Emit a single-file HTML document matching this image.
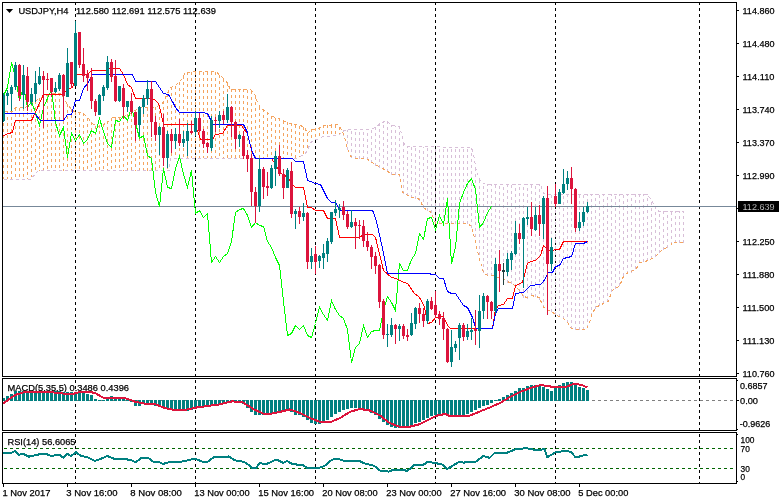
<!DOCTYPE html>
<html lang="en"><head><meta charset="utf-8"><title>USDJPY,H4</title>
<style>html,body{margin:0;padding:0;background:#fff;}body{width:779px;height:504px;overflow:hidden;font-family:"Liberation Sans", "DejaVu Sans", sans-serif;}svg{display:block;}</style>
</head><body>
<svg width="779" height="504" viewBox="0 0 779 504" font-family='"Liberation Sans", "DejaVu Sans", sans-serif' font-size="9.7px" fill="#000" shape-rendering="crispEdges">
<style>text{stroke:#000;stroke-width:0.25px;}</style>
<rect width="779" height="504" fill="#fff"/>
<g stroke="#000" stroke-width="1" stroke-dasharray="3 3" fill="none">
<path d="M75.5 2V376M75.5 380V430M75.5 434V483"/>
<path d="M195.5 2V376M195.5 380V430M195.5 434V483"/>
<path d="M315.5 2V376M315.5 380V430M315.5 434V483"/>
<path d="M435.5 2V376M435.5 380V430M435.5 434V483"/>
<path d="M555.5 2V376M555.5 380V430M555.5 434V483"/>
<path d="M699.5 2V376M699.5 380V430M699.5 434V483"/>
</g>
<path d="M3.5 111V179M7.5 111V179M11.5 111V179M15.5 108V179M19.5 108V179M23.5 108V179M27.5 106V179M31.5 103V177M35.5 101V173M39.5 98V171M43.5 96V171M47.5 94V171M51.5 93V171M55.5 93V171M59.5 93V171M63.5 97V171M67.5 104V171M71.5 109V171M75.5 112V171M79.5 112V171M83.5 113V171M87.5 118V171M91.5 122V171M95.5 126V171M99.5 125V171M103.5 124V171M107.5 121V171M111.5 118V171M115.5 117V171M119.5 117V171M123.5 116V171M127.5 114V171M131.5 113V171M135.5 110V171M139.5 108V171M143.5 108V171M147.5 108V171M151.5 108V171M155.5 107V171M159.5 105V171M163.5 101V171M167.5 94V171M171.5 87V158M175.5 86V158M179.5 82V158M183.5 76V158M187.5 72V158M191.5 72V158M195.5 72V158M199.5 72V158M203.5 72V158M207.5 72V158M211.5 72V158M215.5 72V158M219.5 75V158M223.5 79V158M227.5 83V158M231.5 89V158M235.5 89V158M239.5 89V158M243.5 89V158M247.5 90V158M251.5 91V158M255.5 96V158M259.5 107V158M263.5 109V158M267.5 112V158M271.5 116V158M275.5 118V158M279.5 118V158M283.5 121V158M287.5 122V158M291.5 123V158M295.5 125V158M299.5 126V157M303.5 127V154M307.5 133V148M311.5 129V142M315.5 128V140M319.5 127V138M323.5 125V137M327.5 125V136M331.5 125V136M335.5 125V136M339.5 127V134" stroke="#f4a460" stroke-width="1" stroke-dasharray="3 3" fill="none"/>
<path d="M343.5 136V131M347.5 150V130M351.5 158V130M355.5 159V130M359.5 159V130M363.5 159V130M367.5 160V130M371.5 163V130M375.5 166V127M379.5 168V123M383.5 170V122M387.5 172V122M391.5 175V125M395.5 175V126M399.5 177V127M403.5 194V142M407.5 196V147M411.5 198V147M415.5 199V147M419.5 201V147M423.5 208V147M427.5 211V147M431.5 213V147M435.5 224V147M439.5 224V147M443.5 224V147M447.5 224V147M451.5 224V147M455.5 224V147M459.5 224V147M463.5 224V147M467.5 224V147M471.5 228V148M475.5 243V166M479.5 261V180M483.5 273V184M487.5 276V184M491.5 276V184M495.5 278V184M499.5 279V184M503.5 280V184M507.5 283V184M511.5 284V184M515.5 287V184M519.5 292V184M523.5 298V184M527.5 299V184M531.5 296V184M535.5 297V184M539.5 300V184M543.5 308V193M547.5 311V194M551.5 312V194M555.5 315V194M559.5 317V194M563.5 319V194M567.5 323V194M571.5 329V194M575.5 330V194M579.5 330V194M583.5 330V194M587.5 328V194M591.5 316V194M595.5 309V194M599.5 306V194M603.5 304V194M607.5 302V194M611.5 292V194M615.5 289V194M619.5 286V194M623.5 276V194M627.5 274V194M631.5 273V194M635.5 269V194M639.5 263V194M643.5 262V194M647.5 261V194M651.5 259V201M655.5 257V208M659.5 253V211M663.5 250V211M667.5 248V211M671.5 245V211M675.5 243V211M679.5 243V211M683.5 243V211" stroke="#d8bfd8" stroke-width="1" stroke-dasharray="3 3" fill="none"/>
<polyline points="3.5,111.5 12.5,111.5 15.5,107.5 25.5,107.5 39.5,98.5 50.5,93.5 60.5,93.5 63.5,97.5 67.5,104.5 71.5,109.5 75.5,112.5 79.5,112.5 83.5,113.5 87.5,117.5 92.5,123.5 96.5,126.5 102.5,125.5 109.5,120.5 112.5,117.5 121.5,117.5 132.5,112.5 139.5,107.5 155.5,107.5 162.5,103.5 166.5,95.5 170.5,87.5 175.5,85.5 180.5,80.5 185.5,72.5 195.5,71.5 215.5,71.5 220.5,75.5 226.5,81.5 230.5,89.5 250.5,89.5 254.5,93.5 256.5,99.5 260.5,108.5 265.5,110.5 269.5,114.5 274.5,117.5 279.5,118.5 282.5,120.5 290.5,123.5 300.5,125.5 304.5,127.5 307.5,133.5 311.5,129.5 318.5,128.5 323.5,125.5 338.5,124.5 341.5,129.5 344.5,136.5 346.5,146.5 350.5,156.5 355.5,158.5 366.5,158.5 373.5,163.5 380.5,167.5 386.5,170.5 391.5,174.5 399.5,174.5 400.5,178.5 402.5,192.5 406.5,194.5 411.5,197.5 415.5,197.5 419.5,199.5 423.5,207.5 427.5,210.5 431.5,212.5 435.5,223.5 468.5,223.5 471.5,227.5 475.5,240.5 477.5,251.5 480.5,262.5 483.5,272.5 487.5,275.5 492.5,275.5 497.5,277.5 502.5,278.5 507.5,281.5 513.5,284.5 519.5,290.5 523.5,296.5 527.5,297.5 531.5,295.5 539.5,297.5 542.5,305.5 545.5,309.5 551.5,311.5 556.5,315.5 562.5,317.5 567.5,322.5 571.5,328.5 578.5,329.5 586.5,329.5 590.5,319.5 591.5,314.5 596.5,306.5 600.5,305.5 604.5,302.5 608.5,301.5 611.5,291.5 614.5,288.5 619.5,286.5 622.5,278.5 624.5,274.5 628.5,272.5 631.5,271.5 636.5,268.5 639.5,262.5 644.5,261.5 648.5,260.5 655.5,256.5 660.5,251.5 663.5,249.5 670.5,245.5 672.5,242.5 683.5,242.5" stroke="#f4a460" stroke-width="1" stroke-dasharray="3 3" fill="none"/>
<polyline points="3.5,179.5 30.5,179.5 38.5,170.5 169.5,170.5 170.5,158.5 297.5,158.5 300.5,156.5 305.5,153.5 308.5,147.5 311.5,141.5 316.5,139.5 323.5,136.5 338.5,135.5 342.5,131.5 346.5,129.5 371.5,129.5 376.5,126.5 380.5,123.5 386.5,120.5 391.5,125.5 399.5,126.5 401.5,133.5 404.5,144.5 407.5,146.5 471.5,147.5 473.5,153.5 476.5,171.5 480.5,181.5 485.5,184.5 540.5,184.5 543.5,193.5 548.5,194.5 647.5,194.5 653.5,203.5 656.5,210.5 660.5,211.5 683.5,211.5" stroke="#d8bfd8" stroke-width="1" stroke-dasharray="3 3" fill="none"/>
<path d="M3 206.5H736" stroke="#778899" stroke-width="1" fill="none"/>
<polyline points="3.5,95.5 7.5,87.5 11.5,62.5 15.5,77.5 19.5,100.5 23.5,86.5 27.5,107.5 31.5,101.5 35.5,112.5 39.5,125.5 43.5,107.5 47.5,98.5 51.5,89.5 55.5,122.5 59.5,135.5 63.5,127.5 67.5,157.5 71.5,133.5 75.5,140.5 79.5,134.5 83.5,143.5 87.5,139.5 91.5,130.5 95.5,133.5 99.5,118.5 103.5,131.5 107.5,143.5 111.5,147.5 115.5,120.5 119.5,121.5 123.5,115.5 127.5,120.5 131.5,107.5 135.5,122.5 139.5,138.5 143.5,135.5 147.5,155.5 151.5,158.5 155.5,192.5 159.5,206.5 163.5,168.5 167.5,187.5 171.5,188.5 175.5,168.5 179.5,156.5 183.5,174.5 187.5,187.5 191.5,170.5 195.5,213.5 199.5,210.5 203.5,217.5 207.5,213.5 211.5,262.5 215.5,256.5 219.5,262.5 223.5,256.5 227.5,253.5 231.5,241.5 235.5,212.5 239.5,209.5 243.5,208.5 247.5,215.5 251.5,227.5 255.5,222.5 259.5,225.5 263.5,226.5 267.5,241.5 271.5,247.5 275.5,257.5 279.5,265.5 283.5,301.5 287.5,335.5 291.5,333.5 295.5,325.5 299.5,329.5 303.5,325.5 307.5,335.5 311.5,337.5 315.5,323.5 319.5,307.5 323.5,314.5 327.5,320.5 331.5,300.5 335.5,309.5 339.5,315.5 343.5,318.5 347.5,329.5 351.5,362.5 355.5,347.5 359.5,343.5 363.5,325.5 367.5,337.5 371.5,331.5 375.5,330.5 379.5,330.5 383.5,310.5 387.5,296.5 391.5,302.5 395.5,310.5 399.5,263.5 403.5,270.5 407.5,270.5 411.5,259.5 415.5,253.5 419.5,233.5 423.5,239.5 427.5,218.5 431.5,217.5 435.5,229.5 439.5,215.5 443.5,224.5 447.5,198.5 451.5,263.5 455.5,247.5 459.5,203.5 463.5,192.5 467.5,183.5 471.5,178.5 475.5,189.5 479.5,227.5 483.5,222.5 487.5,212.5 491.5,206.5" stroke="#00ff00" stroke-width="1" fill="none"/>
<polyline points="3.5,135.5 8.5,133.5 12.5,132.5 15.5,120.5 31.5,120.5 33.5,116.5 43.5,94.5 61.5,94.5 69.5,88.5 72.5,87.5 76.5,74.5 87.5,74.5 91.5,70.5 106.5,70.5 107.5,68.5 119.5,68.5 123.5,74.5 127.5,84.5 131.5,87.5 135.5,98.5 151.5,98.5 154.5,99.5 158.5,103.5 160.5,110.5 163.5,124.5 194.5,124.5 198.5,133.5 200.5,139.5 212.5,139.5 215.5,134.5 222.5,133.5 227.5,125.5 241.5,125.5 243.5,128.5 247.5,133.5 251.5,150.5 255.5,158.5 271.5,158.5 275.5,164.5 279.5,171.5 283.5,175.5 287.5,176.5 291.5,183.5 295.5,187.5 303.5,187.5 307.5,207.5 311.5,207.5 315.5,210.5 323.5,210.5 327.5,218.5 335.5,218.5 339.5,237.5 359.5,237.5 363.5,234.5 372.5,234.5 375.5,237.5 376.5,241.5 383.5,270.5 391.5,277.5 396.5,278.5 401.5,281.5 407.5,283.5 412.5,290.5 413.5,292.5 419.5,297.5 423.5,304.5 425.5,311.5 427.5,323.5 431.5,322.5 435.5,317.5 443.5,316.5 447.5,325.5 450.5,328.5 492.5,328.5 495.5,309.5 498.5,305.5 503.5,304.5 507.5,298.5 512.5,298.5 515.5,285.5 522.5,282.5 527.5,263.5 530.5,261.5 535.5,260.5 540.5,255.5 543.5,245.5 546.5,248.5 548.5,250.5 559.5,249.5 563.5,241.5 587.5,241.5" stroke="#ff0000" stroke-width="1" fill="none"/>
<polyline points="3.5,113.5 34.5,113.5 40.5,120.5 63.5,120.5 67.5,114.5 71.5,114.5 75.5,100.5 79.5,100.5 83.5,88.5 87.5,83.5 92.5,74.5 132.5,74.5 135.5,81.5 155.5,81.5 163.5,93.5 168.5,94.5 172.5,101.5 175.5,107.5 179.5,112.5 201.5,112.5 207.5,113.5 210.5,119.5 212.5,124.5 243.5,124.5 247.5,132.5 248.5,138.5 252.5,152.5 255.5,158.5 292.5,158.5 295.5,161.5 303.5,161.5 307.5,180.5 310.5,181.5 315.5,183.5 320.5,184.5 322.5,188.5 327.5,198.5 331.5,202.5 335.5,202.5 338.5,207.5 340.5,210.5 372.5,210.5 373.5,212.5 376.5,221.5 382.5,248.5 387.5,273.5 429.5,273.5 431.5,274.5 435.5,274.5 439.5,278.5 443.5,278.5 447.5,291.5 451.5,293.5 455.5,293.5 463.5,305.5 467.5,307.5 472.5,317.5 475.5,327.5 476.5,328.5 492.5,328.5 495.5,313.5 498.5,308.5 512.5,308.5 515.5,293.5 523.5,292.5 530.5,285.5 540.5,284.5 543.5,281.5 548.5,272.5 552.5,272.5 555.5,266.5 559.5,265.5 563.5,258.5 567.5,257.5 571.5,256.5 575.5,243.5 583.5,243.5 587.5,241.5" stroke="#0000ff" stroke-width="1" fill="none"/>
<path d="M3 93h1V122h-1zM2 95h3V121h-3zM7 90h1V105h-1zM6 93h3V96h-3zM11 85h1V111h-1zM10 87h3V94h-3zM15 62h1V90h-1zM14 65h3V87h-3zM23 65h1V109h-1zM22 75h3V95h-3zM31 88h1V105h-1zM30 94h3V102h-3zM35 71h1V102h-1zM34 83h3V94h-3zM39 67h1V85h-1zM38 76h3V84h-3zM55 82h1V93h-1zM54 88h3V92h-3zM59 73h1V91h-1zM58 75h3V89h-3zM67 48h1V97h-1zM66 63h3V97h-3zM75 21h1V86h-1zM74 33h3V86h-3zM99 94h1V115h-1zM98 95h3V115h-3zM103 85h1V101h-1zM102 87h3V96h-3zM107 56h1V90h-1zM106 62h3V88h-3zM119 86h1V102h-1zM118 86h3V101h-3zM127 101h1V112h-1zM126 101h3V107h-3zM139 106h1V136h-1zM138 107h3V125h-3zM143 95h1V114h-1zM142 98h3V107h-3zM147 80h1V105h-1zM146 89h3V99h-3zM159 126h1V155h-1zM158 127h3V135h-3zM167 131h1V168h-1zM166 134h3V158h-3zM175 128h1V149h-1zM174 134h3V141h-3zM183 131h1V147h-1zM182 139h3V143h-3zM187 123h1V156h-1zM186 131h3V141h-3zM195 111h1V136h-1zM194 118h3V132h-3zM211 116h1V151h-1zM210 120h3V148h-3zM219 111h1V128h-1zM218 115h3V121h-3zM227 94h1V123h-1zM226 107h3V120h-3zM239 134h1V147h-1zM238 135h3V139h-3zM259 158h1V212h-1zM258 169h3V206h-3zM271 165h1V189h-1zM270 168h3V188h-3zM275 151h1V186h-1zM274 156h3V169h-3zM287 168h1V188h-1zM286 170h3V188h-3zM295 209h1V229h-1zM294 211h3V214h-3zM303 203h1V221h-1zM302 213h3V217h-3zM311 248h1V269h-1zM310 256h3V262h-3zM319 255h1V268h-1zM318 256h3V261h-3zM323 244h1V269h-1zM322 253h3V258h-3zM327 238h1V262h-1zM326 241h3V254h-3zM331 212h1V244h-1zM330 212h3V242h-3zM335 200h1V216h-1zM334 209h3V213h-3zM339 204h1V218h-1zM338 208h3V210h-3zM351 210h1V228h-1zM350 222h3V227h-3zM387 324h1V347h-1zM386 334h3V335h-3zM391 318h1V337h-1zM390 325h3V335h-3zM399 324h1V341h-1zM398 326h3V329h-3zM411 313h1V336h-1zM410 323h3V335h-3zM415 307h1V329h-1zM414 308h3V324h-3zM427 299h1V324h-1zM426 301h3V321h-3zM451 330h1V367h-1zM450 347h3V362h-3zM455 341h1V352h-1zM454 344h3V348h-3zM459 323h1V360h-1zM458 325h3V338h-3zM467 324h1V340h-1zM466 331h3V337h-3zM471 318h1V340h-1zM470 330h3V332h-3zM479 295h1V348h-1zM478 311h3V331h-3zM483 293h1V319h-1zM482 296h3V311h-3zM495 258h1V314h-1zM494 264h3V311h-3zM507 253h1V276h-1zM506 259h3V272h-3zM511 251h1V270h-1zM510 253h3V260h-3zM515 221h1V255h-1zM514 233h3V254h-3zM523 217h1V288h-1zM522 218h3V239h-3zM527 207h1V225h-1zM526 217h3V219h-3zM535 207h1V231h-1zM534 215h3V230h-3zM543 196h1V239h-1zM542 198h3V224h-3zM551 238h1V271h-1zM550 247h3V264h-3zM559 189h1V204h-1zM558 192h3V204h-3zM563 169h1V194h-1zM562 184h3V193h-3zM567 171h1V190h-1zM566 178h3V184h-3zM579 212h1V231h-1zM578 222h3V228h-3zM583 207h1V226h-1zM582 212h3V222h-3zM587 202h1V213h-1zM586 206h3V212h-3z" fill="#008080"/>
<path d="M19 64h1V101h-1zM18 65h3V96h-3zM27 67h1V111h-1zM26 76h3V102h-3zM43 71h1V128h-1zM42 76h3V80h-3zM47 73h1V90h-1zM46 79h3V80h-3zM51 78h1V97h-1zM50 78h3V92h-3zM63 74h1V120h-1zM62 75h3V96h-3zM71 62h1V88h-1zM70 62h3V84h-3zM79 32h1V68h-1zM78 32h3V65h-3zM83 48h1V82h-1zM82 64h3V76h-3zM87 70h1V91h-1zM86 74h3V78h-3zM91 68h1V109h-1zM90 77h3V101h-3zM95 99h1V116h-1zM94 101h3V112h-3zM111 59h1V82h-1zM110 62h3V77h-3zM115 60h1V102h-1zM114 76h3V101h-3zM123 84h1V119h-1zM122 88h3V107h-3zM131 93h1V114h-1zM130 101h3V112h-3zM135 112h1V141h-1zM134 112h3V125h-3zM151 81h1V137h-1zM150 89h3V122h-3zM155 116h1V141h-1zM154 122h3V135h-3zM163 114h1V166h-1zM162 127h3V158h-3zM171 129h1V153h-1zM170 134h3V141h-3zM179 119h1V146h-1zM178 134h3V143h-3zM191 121h1V134h-1zM190 131h3V133h-3zM199 113h1V132h-1zM198 118h3V131h-3zM203 129h1V148h-1zM202 131h3V144h-3zM207 142h1V153h-1zM206 143h3V147h-3zM215 117h1V132h-1zM214 120h3V121h-3zM223 111h1V124h-1zM222 115h3V120h-3zM231 106h1V137h-1zM230 107h3V122h-3zM235 121h1V149h-1zM234 122h3V139h-3zM243 131h1V159h-1zM242 136h3V156h-3zM247 150h1V172h-1zM246 155h3V159h-3zM251 154h1V206h-1zM250 158h3V192h-3zM255 187h1V223h-1zM254 192h3V206h-3zM263 167h1V199h-1zM262 169h3V187h-3zM267 172h1V196h-1zM266 186h3V188h-3zM279 145h1V176h-1zM278 156h3V174h-3zM283 169h1V199h-1zM282 174h3V188h-3zM291 162h1V218h-1zM290 171h3V214h-3zM299 207h1V224h-1zM298 211h3V217h-3zM307 212h1V269h-1zM306 213h3V262h-3zM315 246h1V274h-1zM314 254h3V262h-3zM343 201h1V220h-1zM342 207h3V215h-3zM347 211h1V229h-1zM346 214h3V227h-3zM355 218h1V249h-1zM354 222h3V226h-3zM359 220h1V239h-1zM358 225h3V226h-3zM363 220h1V247h-1zM362 226h3V241h-3zM367 232h1V251h-1zM366 241h3V247h-3zM371 245h1V269h-1zM370 247h3V257h-3zM375 252h1V274h-1zM374 256h3V266h-3zM379 264h1V308h-1zM378 265h3V302h-3zM383 299h1V339h-1zM382 301h3V335h-3zM395 324h1V344h-1zM394 325h3V329h-3zM403 324h1V339h-1zM402 326h3V336h-3zM407 329h1V341h-1zM406 335h3V337h-3zM419 303h1V323h-1zM418 308h3V314h-3zM423 308h1V327h-1zM422 314h3V321h-3zM431 297h1V310h-1zM430 301h3V309h-3zM435 291h1V318h-1zM434 305h3V315h-3zM439 311h1V325h-1zM438 314h3V319h-3zM443 312h1V340h-1zM442 318h3V329h-3zM447 328h1V363h-1zM446 329h3V362h-3zM463 323h1V341h-1zM462 325h3V337h-3zM475 310h1V345h-1zM474 329h3V331h-3zM487 295h1V319h-1zM486 296h3V302h-3zM491 301h1V319h-1zM490 302h3V311h-3zM499 250h1V292h-1zM498 264h3V271h-3zM519 224h1V244h-1zM518 233h3V239h-3zM531 202h1V236h-1zM530 217h3V229h-3zM539 205h1V236h-1zM538 215h3V224h-3zM547 186h1V315h-1zM546 198h3V264h-3zM555 184h1V207h-1zM554 196h3V204h-3zM571 167h1V204h-1zM570 178h3V189h-3zM575 188h1V232h-1zM574 189h3V228h-3z" fill="#dc143c"/>
<path d="M503 263h1V285h-1zM502 270h3V272h-3z" fill="#1f3f3f"/>
<text x="7.5" y="390.7" textLength="121.5" lengthAdjust="spacingAndGlyphs">MACD(5,35,5) 0.3486 0.4396</text>
<text x="7.5" y="444.7" textLength="68" lengthAdjust="spacingAndGlyphs">RSI(14) 56.6065</text>
<path d="M4 400.5H736" stroke="#808080" stroke-width="1" stroke-dasharray="3 3" fill="none"/>
<path d="M2 398h3V401h-3zM6 396h3V401h-3zM10 394h3V401h-3zM14 391h3V401h-3zM18 391h3V401h-3zM22 391h3V401h-3zM26 391h3V401h-3zM30 391h3V401h-3zM34 391h3V401h-3zM38 391h3V401h-3zM42 391h3V401h-3zM46 391h3V401h-3zM50 391h3V401h-3zM54 391h3V401h-3zM58 391h3V401h-3zM62 392h3V401h-3zM66 392h3V401h-3zM70 392h3V401h-3zM74 393h3V401h-3zM78 393h3V401h-3zM82 393h3V401h-3zM86 394h3V401h-3zM90 395h3V401h-3zM94 399h3V401h-3zM98 400h3V401h-3zM102 400h3V401h-3zM106 399h3V401h-3zM110 396h3V401h-3zM114 397h3V401h-3zM118 398h3V401h-3zM122 399h3V401h-3zM126 400h3V401h-3zM130 400h3V402h-3zM134 400h3V406h-3zM138 400h3V406h-3zM142 400h3V404h-3zM146 400h3V404h-3zM150 400h3V404h-3zM154 400h3V406h-3zM158 400h3V407h-3zM162 400h3V408h-3zM166 400h3V409h-3zM170 400h3V410h-3zM174 400h3V410h-3zM178 400h3V411h-3zM182 400h3V411h-3zM186 400h3V411h-3zM190 400h3V410h-3zM194 400h3V409h-3zM198 400h3V408h-3zM202 400h3V407h-3zM206 400h3V407h-3zM210 400h3V406h-3zM214 400h3V405h-3zM218 400h3V404h-3zM222 400h3V403h-3zM226 400h3V402h-3zM230 400h3V401h-3zM234 400h3V401h-3zM238 400h3V401h-3zM242 400h3V404h-3zM246 400h3V408h-3zM250 400h3V412h-3zM254 400h3V415h-3zM258 400h3V415h-3zM262 400h3V415h-3zM266 400h3V414h-3zM270 400h3V413h-3zM274 400h3V412h-3zM278 400h3V411h-3zM282 400h3V410h-3zM286 400h3V410h-3zM290 400h3V412h-3zM294 400h3V415h-3zM298 400h3V415h-3zM302 400h3V417h-3zM306 400h3V420h-3zM310 400h3V423h-3zM314 400h3V424h-3zM318 400h3V424h-3zM322 400h3V422h-3zM326 400h3V420h-3zM330 400h3V417h-3zM334 400h3V414h-3zM338 400h3V412h-3zM342 400h3V410h-3zM346 400h3V409h-3zM350 400h3V408h-3zM354 400h3V408h-3zM358 400h3V409h-3zM362 400h3V410h-3zM366 400h3V411h-3zM370 400h3V413h-3zM374 400h3V415h-3zM378 400h3V419h-3zM382 400h3V422h-3zM386 400h3V425h-3zM390 400h3V427h-3zM394 400h3V428h-3zM398 400h3V428h-3zM402 400h3V427h-3zM406 400h3V426h-3zM410 400h3V425h-3zM414 400h3V423h-3zM418 400h3V422h-3zM422 400h3V420h-3zM426 400h3V418h-3zM430 400h3V416h-3zM434 400h3V415h-3zM438 400h3V414h-3zM442 400h3V415h-3zM446 400h3V416h-3zM450 400h3V417h-3zM454 400h3V417h-3zM458 400h3V416h-3zM462 400h3V415h-3zM466 400h3V414h-3zM470 400h3V412h-3zM474 400h3V410h-3zM478 400h3V408h-3zM482 400h3V406h-3zM486 400h3V405h-3zM490 400h3V403h-3zM494 400h3V401h-3zM498 399h3V401h-3zM502 397h3V401h-3zM506 395h3V401h-3zM510 393h3V401h-3zM514 391h3V401h-3zM518 388h3V401h-3zM522 388h3V401h-3zM526 386h3V401h-3zM530 385h3V401h-3zM534 385h3V401h-3zM538 386h3V401h-3zM542 387h3V401h-3zM546 389h3V401h-3zM550 391h3V401h-3zM554 388h3V401h-3zM558 385h3V401h-3zM562 383h3V401h-3zM566 382h3V401h-3zM570 382h3V401h-3zM574 384h3V401h-3zM578 387h3V401h-3zM582 388h3V401h-3zM586 390h3V401h-3z" fill="#008080"/>
<polyline points="3.3,403.5 10,398.5 16.5,394.4 25,392 50,392 63,393.5 74.5,393.5 79.5,392 90,392 95,393 103,397.5 123,397.5 136,402 144,403.5 154.7,404 164.7,408 174.6,410 184.6,410 197,407.4 219.5,404.4 232,401.4 242,402 254,409.4 264,414 270,413.9 280,411.9 290,409.4 300,413 310,418 320,421.8 330,422.3 340,418 350,411.9 360,408.9 370,410.6 380,415.6 389.5,423 399.5,426.8 409.4,426.8 419.4,424.3 429.4,419.3 437,415.6 445.5,413.9 450,416.4 470,415.6 480,411.4 490,407.4 500,403 510,397 520,392 530,388.2 540,385.2 547,385.7 554.6,387.5 567,386.5 574.5,383.7 582,385 587.4,387.5" stroke="#dc143c" stroke-width="2" fill="none" stroke-linejoin="round"/>
<path d="M4 448.5H736M4 468.5H736" stroke="#006400" stroke-width="1" stroke-dasharray="3 3" fill="none"/>
<polyline points="2.5,453.4 11.2,452.9 15,450.9 18.7,454.7 23.7,453.9 28.6,456.7 39.9,454.2 46,453.9 51,455.9 59.8,454.7 63.5,457.9 67.2,453.9 71,455.9 76,452.2 81,455.9 87.2,457.2 94.6,460.9 102,458.4 107,455.9 114.6,458.9 129.5,459.6 135.7,462.1 140.7,458.4 148.2,457.9 153.2,461.6 159.4,462.1 163.1,463.9 169.4,462.1 184.3,461.4 190,459.6 195,458.9 202.5,461.6 207.4,462.1 213.7,457.2 224.9,457.2 228.6,456.4 234.8,460.4 239.8,460.9 246,462.9 252.3,467.9 256,467.9 259.7,462.9 263.5,463.9 268.5,463.4 274.7,460.1 278.4,460.4 283.4,462.9 287.1,460.9 290.9,463.4 297.1,464.6 302.1,464.6 307.1,467.9 319.5,467.6 324.5,465.9 332,459.6 338.2,458.9 344.4,460.9 359.4,460.9 364.3,463.4 374.3,465.9 380.5,470.9 388.7,471.6 393.7,469.6 401.2,469.6 407.4,470.9 414.9,464.6 423.6,464.6 427.3,462.1 433.5,462.6 442.3,464.6 447.2,469.1 452.2,465.9 459.7,461.6 463.4,462.6 475.9,461.6 483.4,455.9 489.6,457.9 494.6,452.9 507,452.7 515.7,449.2 520.7,449.2 525.7,447.9 530.7,449.2 539.4,450.4 544.4,448.9 547.4,457.2 555.6,452.2 566.2,450.8 571.2,452.2 575,456.7 578.7,456.7 583.7,455.4 587.4,454.7" stroke="#008080" stroke-width="2" fill="none" stroke-linejoin="round"/>
<g fill="#000">
<rect x="2" y="2" width="1" height="375"/>
<rect x="2" y="378" width="1" height="53"/>
<rect x="2" y="432" width="1" height="52"/>
<rect x="736" y="2" width="1" height="375"/>
<rect x="736" y="378" width="1" height="53"/>
<rect x="736" y="432" width="1" height="52"/>
<rect x="2" y="2" width="735" height="1"/>
<rect x="2" y="376" width="735" height="1"/>
<rect x="2" y="378" width="735" height="1"/>
<rect x="2" y="430" width="735" height="1"/>
<rect x="2" y="432" width="735" height="1"/>
<rect x="2" y="483" width="735" height="1"/>
<rect x="737" y="10" width="2" height="1"/>
<rect x="737" y="43" width="2" height="1"/>
<rect x="737" y="76" width="2" height="1"/>
<rect x="737" y="109" width="2" height="1"/>
<rect x="737" y="142" width="2" height="1"/>
<rect x="737" y="175" width="2" height="1"/>
<rect x="737" y="208" width="2" height="1"/>
<rect x="737" y="241" width="2" height="1"/>
<rect x="737" y="274" width="2" height="1"/>
<rect x="737" y="307" width="2" height="1"/>
<rect x="737" y="340" width="2" height="1"/>
<rect x="737" y="373" width="2" height="1"/>
<rect x="737" y="400" width="2" height="1"/>
<rect x="737" y="380" width="1" height="1"/>
<rect x="737" y="429" width="1" height="1"/>
<rect x="737" y="434" width="1" height="1"/>
<rect x="737" y="481" width="1" height="1"/>
<rect x="3" y="484" width="1" height="3"/>
<rect x="67" y="484" width="1" height="3"/>
<rect x="131" y="484" width="1" height="3"/>
<rect x="195" y="484" width="1" height="3"/>
<rect x="259" y="484" width="1" height="3"/>
<rect x="323" y="484" width="1" height="3"/>
<rect x="387" y="484" width="1" height="3"/>
<rect x="451" y="484" width="1" height="3"/>
<rect x="515" y="484" width="1" height="3"/>
<rect x="579" y="484" width="1" height="3"/>
</g>
<text x="742.5" y="13.7" textLength="32" lengthAdjust="spacingAndGlyphs">114.860</text>
<text x="742.5" y="46.7" textLength="32" lengthAdjust="spacingAndGlyphs">114.480</text>
<text x="742.5" y="79.7" textLength="32" lengthAdjust="spacingAndGlyphs">114.110</text>
<text x="742.5" y="112.7" textLength="32" lengthAdjust="spacingAndGlyphs">113.740</text>
<text x="742.5" y="145.7" textLength="32" lengthAdjust="spacingAndGlyphs">113.370</text>
<text x="742.5" y="178.7" textLength="32" lengthAdjust="spacingAndGlyphs">112.990</text>
<text x="742.5" y="244.7" textLength="32" lengthAdjust="spacingAndGlyphs">112.250</text>
<text x="742.5" y="277.7" textLength="32" lengthAdjust="spacingAndGlyphs">111.880</text>
<text x="742.5" y="310.7" textLength="32" lengthAdjust="spacingAndGlyphs">111.500</text>
<text x="742.5" y="343.7" textLength="32" lengthAdjust="spacingAndGlyphs">111.130</text>
<text x="742.5" y="376.7" textLength="32" lengthAdjust="spacingAndGlyphs">110.760</text>
<rect x="738" y="201" width="41" height="11" fill="#000"/>
<text x="742.5" y="209.7" textLength="32" lengthAdjust="spacingAndGlyphs" fill="#fff" stroke="#fff">112.639</text>
<text x="740" y="388.7" textLength="27.5" lengthAdjust="spacingAndGlyphs">0.6857</text>
<text x="740" y="403.7" textLength="18" lengthAdjust="spacingAndGlyphs">0.00</text>
<text x="739.8" y="426.7" textLength="30.5" lengthAdjust="spacingAndGlyphs">-0.9626</text>
<text x="740.5" y="442.7" textLength="14" lengthAdjust="spacingAndGlyphs">100</text>
<text x="740.5" y="451.7" textLength="9.3" lengthAdjust="spacingAndGlyphs">70</text>
<text x="740.5" y="471.7" textLength="9.3" lengthAdjust="spacingAndGlyphs">30</text>
<text x="740.5" y="479.7" textLength="4.6" lengthAdjust="spacingAndGlyphs">0</text>
<text x="2.4" y="495.7" textLength="48" lengthAdjust="spacingAndGlyphs">1 Nov 2017</text>
<text x="66.3" y="495.7" textLength="51.3" lengthAdjust="spacingAndGlyphs">3 Nov 16:00</text>
<text x="130.3" y="495.7" textLength="51.5" lengthAdjust="spacingAndGlyphs">8 Nov 08:00</text>
<text x="194.3" y="495.7" textLength="55.3" lengthAdjust="spacingAndGlyphs">13 Nov 00:00</text>
<text x="258.3" y="495.7" textLength="55.8" lengthAdjust="spacingAndGlyphs">15 Nov 16:00</text>
<text x="322.3" y="495.7" textLength="55.3" lengthAdjust="spacingAndGlyphs">20 Nov 08:00</text>
<text x="386.3" y="495.7" textLength="55.3" lengthAdjust="spacingAndGlyphs">23 Nov 00:00</text>
<text x="450.3" y="495.7" textLength="55.8" lengthAdjust="spacingAndGlyphs">27 Nov 16:00</text>
<text x="514.3" y="495.7" textLength="56.3" lengthAdjust="spacingAndGlyphs">30 Nov 08:00</text>
<text x="578.3" y="495.7" textLength="50" lengthAdjust="spacingAndGlyphs">5 Dec 00:00</text>
<path d="M5.9 9h7.2l-3.6 4.1z" fill="#000" shape-rendering="auto"/>
<text x="18.4" y="13.7" textLength="50" lengthAdjust="spacingAndGlyphs">USDJPY,H4</text>
<text x="76" y="13.7" textLength="140" lengthAdjust="spacingAndGlyphs">112.580 112.691 112.575 112.639</text>
</svg>
</body></html>
